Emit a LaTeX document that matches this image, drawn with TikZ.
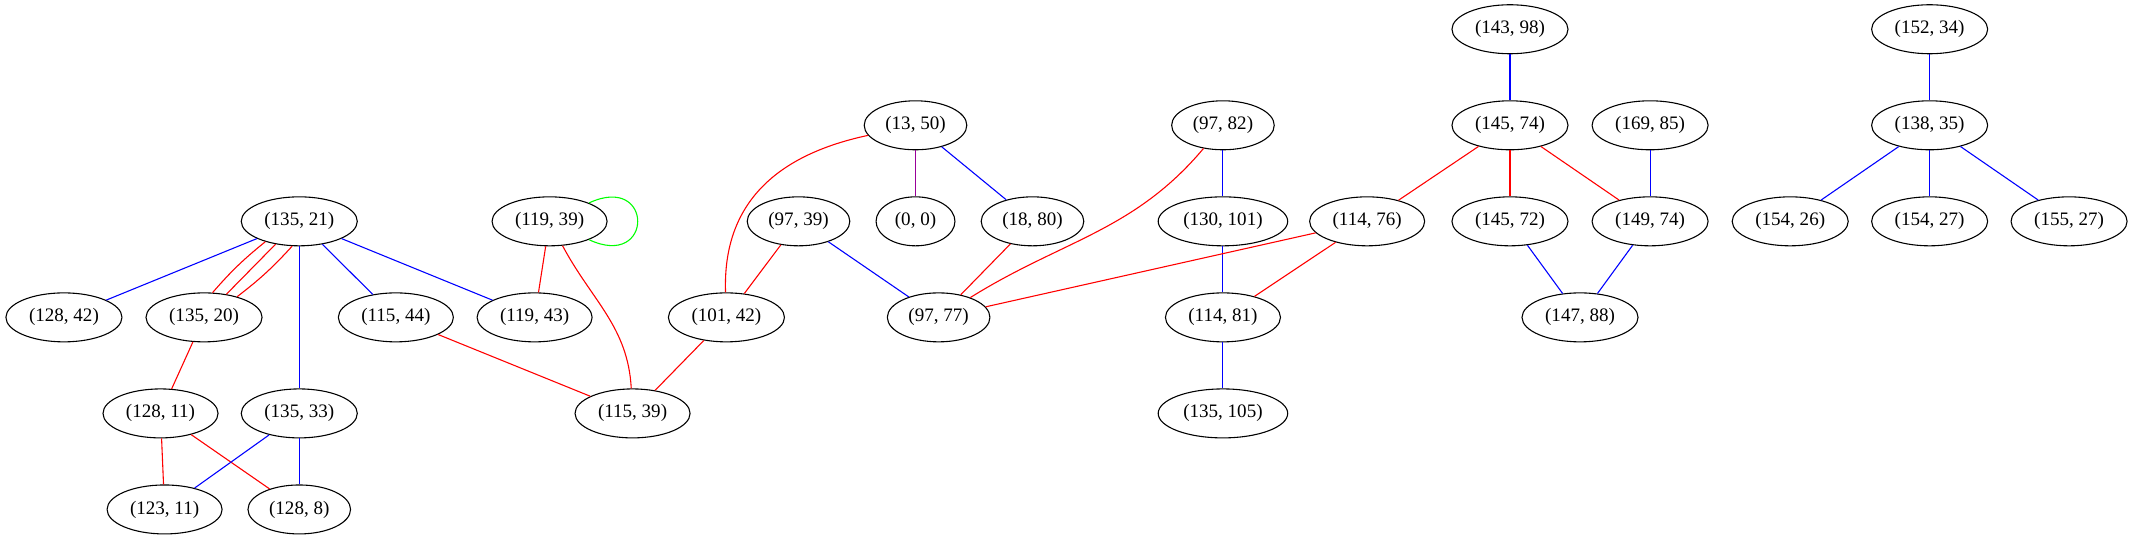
\documentclass[tikz,border=0pt]{standalone}
\usepackage{fontspec}
\setmainfont{Liberation Serif}
\usetikzlibrary{shapes.geometric}

\begin{document}
\begin{tikzpicture}[x=1pt,y=1pt]
        \tikzstyle{main}=[ellipse, draw=black, line width=0.8pt, minimum height=36pt, minimum width=58pt, inner xsep=4.5pt, inner ysep=0pt, font=\fontsize{14pt}{16pt}\selectfont]
        \tikzstyle{redge}=[draw=red, line width=0.8pt]
        \tikzstyle{bedge}=[draw=blue, line width=0.8pt]
        \tikzstyle{gedge}=[draw=green, line width=0.8pt]
        \tikzstyle{pedge}=[draw=violet!80!magenta, line width=0.8pt]
        \useasboundingbox (0,0) rectangle (1568,-396.2);
        % row 0
        \node[main] (p143_98) at (1110,-21.5) {(143, 98)};
        \node[main] (p152_34) at (1418.5,-21.5) {(152, 34)};
        % row 1
        \node[main] (p13_50) at (673,-92.1) {(13, 50)};
        \node[main] (p97_82) at (899,-92.1) {(97, 82)};
        \node[main] (p145_74) at (1110,-92.1) {(145, 74)};
        \node[main] (p169_85) at (1213,-92.1) {(169, 85)};
        \node[main] (p138_35) at (1418.5,-92.1) {(138, 35)};
        % row 2
        \node[main] (p135_21) at (220,-162.7) {(135, 21)};
        \node[main] (p119_39) at (404,-162.7) {(119, 39)};
        \node[main] (p97_39) at (587,-162.7) {(97, 39)};
        \node[main] (p0_0) at (673,-162.7) {(0, 0)};
        \node[main] (p18_80) at (759,-162.7) {(18, 80)};
        \node[main] (p130_101) at (899,-162.7) {(130, 101)};
        \node[main] (p114_76) at (1005,-162.7) {(114, 76)};
        \node[main] (p145_72) at (1110,-162.7) {(145, 72)};
        \node[main] (p149_74) at (1213,-162.7) {(149, 74)};
        \node[main] (p154_26) at (1316,-162.7) {(154, 26)};
        \node[main] (p154_27) at (1418.5,-162.7) {(154, 27)};
        \node[main] (p155_27) at (1521,-162.7) {(155, 27)};
        % row 3
        \node[main] (p128_42) at (47,-233.3) {(128, 42)};
        \node[main] (p135_20) at (150,-233.3) {(135, 20)};
        \node[main] (p115_44) at (291,-233.3) {(115, 44)};
        \node[main] (p119_43) at (393,-233.3) {(119, 43)};
        \node[main] (p101_42) at (534,-233.3) {(101, 42)};
        \node[main] (p97_77) at (690,-233.3) {(97, 77)};
        \node[main] (p114_81) at (899,-233.3) {(114, 81)};
        \node[main] (p147_88) at (1161.5,-233.3) {(147, 88)};
        % row 4
        \node[main] (p128_11) at (118,-303.9) {(128, 11)};
        \node[main] (p135_33) at (220,-303.9) {(135, 33)};
        \node[main] (p115_39) at (465,-303.9) {(115, 39)};
        \node[main] (p135_105) at (899,-303.9) {(135, 105)};
        % row 5
        \node[main] (p123_11) at (121,-374.5) {(123, 11)};
        \node[main] (p128_8) at (220,-374.5) {(128, 8)};
        % edges
        \path (p135_21) edge [bedge] (p128_42)
        (p135_21.211) edge [redge, bend right=5] (p135_20.71)
        (p135_21.224) edge [redge] (p135_20.46)
        (p135_21.254) edge [redge, bend left=5] (p135_20.32)
        (p135_21) edge [bedge] (p135_33)
        (p135_21) edge [bedge] (p115_44)
        (p135_21) edge [bedge] (p119_43)
        (p119_39) edge [gedge, out=25, in=-25, looseness=5] (p119_39)
        (p119_39) edge [redge] (p119_43)
        (p119_39) edge [redge, out=-62, in=93] (p115_39)
        (p135_20) edge [redge] (p128_11)
        (p128_11) edge [redge] (p123_11)
        (p128_11) edge [redge] (p128_8)
        (p135_33) edge [bedge] (p123_11)
        (p135_33) edge [bedge] (p128_8)
        (p115_44) edge [redge] (p115_39)
        (p101_42) edge [redge] (p115_39)
        (p13_50) edge [redge, out=192, in=92, looseness=1.1] (p101_42)
        (p13_50) edge [pedge] (p0_0)
        (p13_50) edge [bedge] (p18_80)
        (p97_39) edge [redge] (p101_42)
        (p97_39) edge [bedge] (p97_77)
        (p18_80) edge [redge] (p97_77)
        (p97_82) edge [redge, out=-130, in=32] (p97_77)
        (p97_82) edge [bedge] (p130_101)
        (p130_101) edge [bedge] (p114_81)
        (p114_76) edge [redge] (p97_77)
        (p114_76) edge [redge] (p114_81)
        (p114_81) edge [bedge] (p135_105)
        (p143_98) edge [bedge] (p145_74)
        (p145_74) edge [redge] (p114_76)
        (p145_74) edge [redge] (p145_72)
        (p145_74) edge [redge] (p149_74)
        (p169_85) edge [bedge] (p149_74)
        (p145_72) edge [bedge] (p147_88)
        (p149_74) edge [bedge] (p147_88)
        (p152_34) edge [bedge] (p138_35)
        (p138_35) edge [bedge] (p154_26)
        (p138_35) edge [bedge] (p154_27)
        (p138_35) edge [bedge] (p155_27);
      \end{tikzpicture}
\end{document}
